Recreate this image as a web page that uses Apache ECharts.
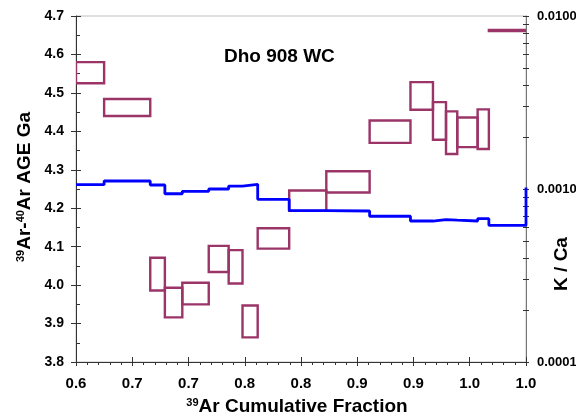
<!DOCTYPE html>
<html>
<head>
<meta charset="utf-8">
<script src="https://cdn.jsdelivr.net/npm/echarts@6/dist/echarts.min.js"></script>
<style>
  html, body { margin: 0; padding: 0; background: #fff; }
  #chart { width: 576px; height: 419px; }
</style>
</head>
<body>
<div id="chart"></div>
<script>
// step boundaries (39Ar cumulative fraction)
var stepEdges = [0.600, 0.625, 0.666, 0.679, 0.6945, 0.718, 0.7357, 0.748, 0.7615, 0.7895,
                 0.8225, 0.861, 0.8973, 0.9173, 0.9289, 0.9389, 0.957, 0.967, 1.0];
// age box tops / bottoms (Ga)
var ageHigh = [4.580, 4.484, 4.071, 3.993, 4.006, 4.102, 4.091, 3.947, 4.148, 4.246,
               4.296, 4.428, 4.528, 4.476, 4.452, 4.436, 4.457, 4.664];
var ageLow  = [4.525, 4.440, 3.986, 3.916, 3.950, 4.034, 4.004, 3.864, 4.095, 4.193,
               4.241, 4.370, 4.456, 4.378, 4.341, 4.359, 4.354, 4.661];
// K/Ca per step
var kcaValues = [0.001059, 0.001112, 0.001055, 0.000939, 0.000970, 0.001000, 0.001040, 0.001065, 0.000872,
                 0.000749, 0.000746, 0.000696, 0.000653, 0.000665, 0.000660, 0.000653, 0.000674, 0.000617];
var kcaEnd = 0.00102;
var xTickLabels = ['0.6', '0.7', '0.7', '0.8', '0.8', '0.9', '0.9', '1.0', '1.0'];
var kcaTickLabels = [0.0001, 0.001, 0.01];

var FONT = '"Liberation Sans", Arial, sans-serif';
var BOX = '#9b3568';

var boxData = [];
for (var i = 0; i < ageHigh.length; i++) {
    boxData.push([stepEdges[i], stepEdges[i + 1], ageLow[i], ageHigh[i]]);
}
var kcaLine = [];
for (var j = 0; j < kcaValues.length; j++) {
    kcaLine.push([stepEdges[j], kcaValues[j]]);
    kcaLine.push([stepEdges[j + 1], kcaValues[j]]);
}
kcaLine.push([1.0, kcaEnd]);

var logTicks = [];
[0.0001, 0.001].forEach(function (d) {
    for (var m = 1; m < 10; m++) logTicks.push(m * d);
});
logTicks.push(0.01);

var myChart = echarts.init(document.getElementById('chart'));

var option = {
    animation: false,
    grid: {
        left: 76, right: 50, top: 16, bottom: 57,
        outerBoundsMode: 'none', containLabel: false,
        show: true, borderColor: '#c0c0c0', borderWidth: 1, backgroundColor: 'transparent'
    },
    xAxis: [
        {
            type: 'value', min: 0.6, max: 1.0, interval: 0.05, position: 'bottom',
            axisLine: {lineStyle: {color: '#333', width: 1}},
            axisTick: {length: 4, lineStyle: {color: '#333'}},
            minorTick: {show: true, splitNumber: 5, length: 3, lineStyle: {color: '#333'}},
            splitLine: {show: false},
            axisLabel: {
                margin: 14, color: '#000', fontSize: 15, fontWeight: 'bold', fontFamily: FONT,
                formatter: function (v) { return xTickLabels[Math.round((v - 0.6) / 0.05)]; }
            }
        },
        {
            type: 'value', min: 0.6, max: 1.0, interval: 0.05, position: 'bottom',
            axisLine: {show: false},
            axisTick: {inside: true, length: 5, lineStyle: {color: '#333'}},
            splitLine: {show: false},
            axisLabel: {show: false}
        }
    ],
    yAxis: [
        {
            type: 'value', min: 3.8, max: 4.7, interval: 0.1, position: 'left',
            axisLine: {show: true, lineStyle: {color: '#333', width: 1}},
            axisTick: {show: true, length: 5, lineStyle: {color: '#333'}},
            splitLine: {show: false},
            axisLabel: {
                margin: 12, color: '#000', fontSize: 14, fontWeight: 'bold', fontFamily: FONT,
                formatter: function (v) { return v.toFixed(1); }
            }
        },
        {
            type: 'log', logBase: 10, min: 0.0001, max: 0.01, position: 'right',
            axisLine: {show: true, lineStyle: {color: '#777', width: 1}},
            axisTick: {show: true, length: 3, customValues: logTicks, lineStyle: {color: '#333'}},
            splitLine: {show: false},
            axisLabel: {
                margin: 11, color: '#000', fontSize: 13, fontWeight: 'bold', fontFamily: FONT,
                customValues: kcaTickLabels,
                formatter: function (v) { return Number(v).toFixed(4); }
            }
        },
        {
            type: 'value', min: 3.8, max: 4.7, interval: 0.1, position: 'left',
            axisLine: {show: false},
            axisTick: {show: true, inside: true, length: 5, lineStyle: {color: '#333'}},
            minorTick: {show: true, splitNumber: 2, length: 4, lineStyle: {color: '#333'}},
            splitLine: {show: false},
            axisLabel: {show: false}
        },
        {
            type: 'log', logBase: 10, min: 0.0001, max: 0.01, position: 'right',
            axisLine: {show: false},
            axisTick: {show: true, inside: true, length: 3, customValues: logTicks, lineStyle: {color: '#333'}},
            splitLine: {show: false},
            axisLabel: {show: false}
        }
    ],
    graphic: [
        {
            type: 'text', left: 224, top: 47,
            style: {text: 'Dho 908 WC', fontSize: 19, fontWeight: 'bold', fontFamily: FONT, fill: '#000'}
        },
        {
            type: 'text', x: 297, y: 407,
            style: {
                text: '{s|39}{b|Ar Cumulative Fraction}',
                align: 'center', verticalAlign: 'middle',
                rich: {
                    s: {fontSize: 11, fontWeight: 'bold', fontFamily: FONT, fill: '#000', verticalAlign: 'top'},
                    b: {fontSize: 19, fontWeight: 'bold', fontFamily: FONT, fill: '#000', verticalAlign: 'bottom'}
                }
            }
        },
        {
            type: 'text', x: 25, y: 187, rotation: Math.PI / 2,
            style: {
                text: '{s|39}{b|Ar-}{s|40}{b|Ar AGE Ga}',
                align: 'center', verticalAlign: 'middle',
                rich: {
                    s: {fontSize: 11, fontWeight: 'bold', fontFamily: FONT, fill: '#000', verticalAlign: 'top'},
                    b: {fontSize: 19, fontWeight: 'bold', fontFamily: FONT, fill: '#000', verticalAlign: 'bottom'}
                }
            }
        },
        {
            type: 'text', x: 562, y: 264, rotation: Math.PI / 2,
            style: {
                text: 'K / Ca', align: 'center', verticalAlign: 'middle',
                fontSize: 19, fontWeight: 'bold', fontFamily: FONT, fill: '#000'
            }
        }
    ],
    series: [
        {
            type: 'custom',
            xAxisIndex: 0, yAxisIndex: 0,
            clip: true,
            encode: {x: [0, 1], y: [2, 3]},
            renderItem: function (params, api) {
                var p0 = api.coord([api.value(0), api.value(3)]);
                var p1 = api.coord([api.value(1), api.value(2)]);
                return {
                    type: 'rect',
                    shape: {x: p0[0], y: p0[1], width: p1[0] - p0[0], height: p1[1] - p0[1]},
                    style: {fill: 'none', stroke: BOX, lineWidth: 2.4}
                };
            },
            data: boxData,
            z: 2
        },
        {
            type: 'line',
            xAxisIndex: 0, yAxisIndex: 1,
            showSymbol: false, symbol: 'none',
            clip: true,
            lineStyle: {color: '#0000ff', width: 2.8},
            data: kcaLine,
            z: 3
        }
    ]
};
myChart.setOption(option);
</script>
</body>
</html>
